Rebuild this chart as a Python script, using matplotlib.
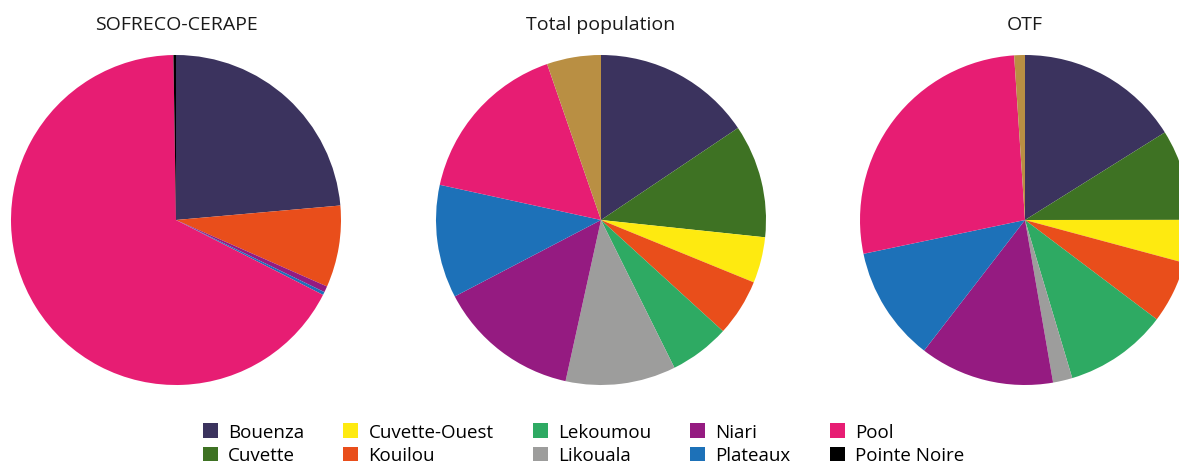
import matplotlib
matplotlib.use("Agg")
import matplotlib.pyplot as plt
from matplotlib.patches import Patch

plt.rcParams['font.family'] = ['Open Sans', 'DejaVu Sans']

# Departments (the last unlabeled group is drawn but not listed in the legend)
regions = ["Bouenza", "Cuvette", "Cuvette-Ouest", "Kouilou", "Lekoumou",
           "Likouala", "Niari", "Plateaux", "Pool", "Pointe Noire", "Sangha"]
colors = ["#3b335e", "#3e7223", "#feea10", "#e94e1b", "#2eaa63",
          "#9d9d9c", "#951b81", "#1d71b8", "#e71d73", "#000000", "#b98f43"]
legend_regions = regions[:10]

titles = ["SOFRECO-CERAPE", "Total population", "OTF"]

# Shares in percent per department
sofreco = [23.6, 0, 0, 8.0, 0, 0, 0.6, 0.3, 67.25, 0.25, 0]
total_pop = [15.6, 11.1, 4.5, 5.6, 5.9, 10.8, 13.9, 11.1, 16.3, 0, 5.3]
otf = [16.1, 8.9, 4.2, 6.1, 10.1, 1.9, 13.2, 11.25, 27.25, 0, 1.05]

series = [sofreco, total_pop, otf]

W, H = 1179, 464
fig = plt.figure(figsize=(W / 100, H / 100), dpi=100)

centers_x = [176, 601, 1025]
cy = 221
r = 165

for cx, title, vals in zip(centers_x, titles, series):
    ax = fig.add_axes([(cx - r) / W, (H - cy - r) / H, 2 * r / W, 2 * r / H])
    ax.pie(vals, colors=colors, startangle=90, counterclock=False,
           radius=1.0, wedgeprops=dict(linewidth=0))
    ax.set_xlim(-1, 1)
    ax.set_ylim(-1, 1)
    ax.set_aspect('equal')
    ax.axis('off')
    fig.text(cx / W, 1 - 25 / H, title, ha='center', va='center',
             fontsize=14, color='#1a1a1a')

handles = [Patch(facecolor=c, edgecolor='none') for c in colors[:10]]
fig.legend(handles, legend_regions, ncol=5, loc='upper left',
           bbox_to_anchor=(203 / W, 1 - 424 / H), frameon=False,
           fontsize=13.5, handlelength=0.8, handleheight=0.8,
           handletextpad=0.53, columnspacing=2.1, labelspacing=0.28,
           borderaxespad=0, borderpad=0)

fig.savefig("out.png", dpi=100)
